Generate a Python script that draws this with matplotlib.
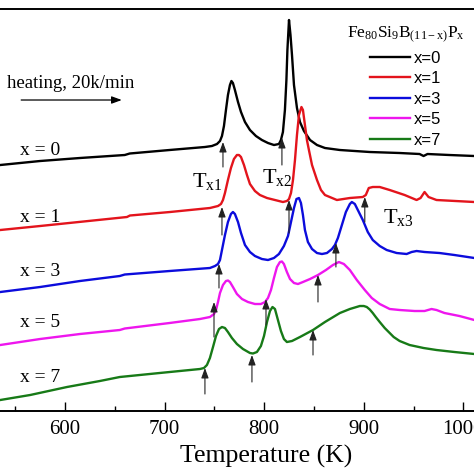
import matplotlib
matplotlib.use("Agg")
import matplotlib.pyplot as plt
from matplotlib.ticker import MultipleLocator, FixedLocator

plt.rcParams["font.family"] = ["Liberation Serif", "DejaVu Serif"]
plt.rcParams["mathtext.fontset"] = "custom"
plt.rcParams["mathtext.rm"] = "Liberation Serif"
plt.rcParams["mathtext.it"] = "Liberation Serif:italic"

# DSC traces: temperature (K) vs heat flow (a.u., curves offset)
temp_x0 = [535, 575, 615, 660, 665, 705, 740.5, 747.5, 752.6, 755.6, 757.6, 759.6, 761.6, 763.6, 765.6,
           767.1, 768.6, 770.6, 773.7, 776.7, 780.7, 785.7, 791.7, 797.7, 803.8, 809.8, 814.8, 816.8,
           818.8, 820.8, 822.3, 823.3, 824.9, 826.4, 827.9, 829.9, 832.9, 835.9, 839.9, 846, 853, 861,
           876, 906, 936, 956, 960, 964, 986, 1011]
flow_x0 = [246, 250, 253, 256, 257.5, 261, 264, 265, 267, 270, 275, 285, 301, 316, 326,
           330, 328, 321, 309, 299, 289, 281, 275, 271, 268, 266, 267, 271,
           279, 301, 331, 361, 391, 376, 356, 326, 303, 289, 280, 271, 266, 263,
           261, 259, 258, 257, 255, 257, 256, 255]

temp_x1 = [535, 575, 662.2, 665.2, 705.4, 745.5, 753.6, 756.6, 758.6, 760.6, 763.6, 766.6, 769.6, 772.6,
           774.7, 776.7, 779.7, 782.7, 785.7, 790.7, 795.7, 802.8, 810.8, 818.8, 822.8, 824.9, 826.9,
           828.9, 830.9, 832.9, 834.9, 837.4, 838.9, 840.9, 842.9, 844.9, 848, 853, 857, 861, 873, 886,
           899, 902, 905, 909, 916, 926, 941, 953, 957, 961, 965, 973, 1011]
flow_x1 = [181, 185, 194, 195.5, 199, 203, 205, 207, 211, 218, 231, 243, 252, 256,
           256, 254, 246, 236, 227, 220, 216, 213, 211, 209, 210, 212, 218,
           231, 251, 276, 296, 304, 301, 286, 271, 261, 246, 231, 221, 216, 211, 213,
           214, 216, 223, 224, 224, 221, 216, 211, 213, 219, 214, 211, 209]

temp_x3 = [535, 575, 615, 655, 660, 705, 745.5, 750.6, 753.6, 755.6, 757.6, 760.6, 763.6, 766.6, 768.6,
           770.6, 773.7, 776.7, 780.7, 785.7, 790.7, 797.7, 803.8, 809.8, 814.8, 819.8, 823.9, 826.9,
           829.9, 832.4, 834.9, 836.9, 838.9, 840.9, 843.9, 848, 853, 858, 863, 868, 871, 874, 878, 882,
           886, 888, 891, 895, 899, 904, 909, 916, 923, 933, 943, 948, 953, 961, 976, 991, 1011]
flow_x3 = [119, 124, 130, 135, 136.5, 140, 143, 145, 147, 151, 161, 176, 189, 197, 199,
           197, 189, 178, 166, 159, 155, 152, 151, 153, 157, 165, 175, 189,
           203, 212, 213, 208, 196, 181, 169, 162, 158, 157, 158, 162, 166, 173, 186, 199,
           207, 209, 207, 199, 191, 179, 171, 165, 161, 158, 157, 159, 160, 159, 158, 156, 153]

temp_x5 = [535, 575, 615, 655, 660, 705, 735.5, 745.5, 749.6, 751.6, 753.6, 755.6, 758.6, 761.6, 763.6,
           765.6, 768.6, 772.6, 777.7, 783.7, 790.7, 796.7, 800.8, 803.8, 806.8, 809.8, 812.8, 815.8,
           817.8, 819.8, 822.8, 825.9, 829.9, 833.9, 838.9, 846, 854, 862, 869, 875, 880, 886, 893, 901,
           908, 916, 926, 936, 951, 961, 968, 973, 981, 996, 1011]
flow_x5 = [66, 72, 77, 81, 82.5, 88, 92, 94, 97, 101, 109, 118, 126, 130, 130.5,
           129, 124, 117, 112, 109, 107, 107, 109, 113, 121, 133, 144, 149,
           149.5, 147, 139, 132, 128, 127, 129, 132, 136, 141, 146, 149, 147, 141, 131, 121,
           113, 107, 102, 101, 100, 100, 102, 101, 98, 95, 91]

temp_x7 = [535, 565, 602, 635, 655, 695, 735.5, 739.5, 742.5, 745.5, 748.6, 751.6, 754.6, 757.6, 760.6,
           763.6, 767.6, 772.6, 778.7, 785.7, 788.7, 792.7, 796.7, 799.8, 802.8, 805.8, 808.3, 810.8,
           813.8, 816.8, 819.8, 822.8, 827.9, 835.9, 849, 861, 876, 886, 891, 896, 900, 903, 906, 909,
           912, 916, 921, 930, 936, 946, 960, 973, 991, 1011]
flow_x7 = [11, 16, 24, 30, 34, 38, 42, 43, 46, 53, 64, 75, 82, 84, 83,
           79, 73, 67, 62, 58, 57.5, 59, 65, 75, 89, 100, 104, 102,
           91, 80, 72, 69, 70, 74, 81, 89, 98, 102, 103.5, 105, 105, 104, 101.5, 98,
           94, 89, 83, 74, 70, 66, 63, 61, 59, 57]

legend_labels = ["x=0", "x=1", "x=3", "x=5", "x=7"]
curve_labels = ["x = 0", "x = 1", "x = 3", "x = 5", "x = 7"]
colors = ["#000000", "#e3141c", "#0c0cdc", "#ee16ee", "#177a17"]

# crystallization onsets: temperature, arrow tail, arrow tip (a.u.)
onset_T = [[758.6, 817.8], [757.6, 824.9, 901], [754.6, 872], [749.6, 801.8, 854], [740.5, 787.7, 849]]
onset_tail = [[244, 246], [176, 178, 189], [123, 144], [74, 86, 109], [17, 29, 56]]
onset_tip = [[269, 273], [204, 211, 214], [147, 168], [109, 112, 136], [43, 56, 81]]
label_flow = [261, 194, 140, 89, 34]

temps = [temp_x0, temp_x1, temp_x3, temp_x5, temp_x7]
flows = [flow_x0, flow_x1, flow_x3, flow_x5, flow_x7]

fig = plt.figure(figsize=(4.74, 4.74), dpi=100)
ax = fig.add_axes([-0.0730, 0.1329, 1.1557, 0.8481])

for t, f, c, lab in zip(temps, flows, colors, legend_labels):
    ax.plot(t, f, color=c, lw=1.7, label=lab)

arrow_kw = dict(arrowstyle="-|>,head_length=0.6,head_width=0.22", color="#222222",
                lw=0.8, mutation_scale=10, shrinkA=0, shrinkB=0)
for ts, tails, tips in zip(onset_T, onset_tail, onset_tip):
    for t, a, b in zip(ts, tails, tips):
        ax.annotate("", xy=(t, b), xytext=(t, a), arrowprops=arrow_kw)

for lab, h in zip(curve_labels, label_flow):
    ax.text(575, h, lab, fontsize=14, ha="center", va="center")

ax.text(727.5, 224, r"$\mathrm{T_{x1}}$", fontsize=16, va="baseline")
ax.text(797.7, 228, r"$\mathrm{T_{x2}}$", fontsize=16, va="baseline")
ax.text(919.2, 188, r"$\mathrm{T_{x3}}$", fontsize=16, va="baseline")

ax.text(541.7, 328, "heating, 20k/min", fontsize=13.5, va="center")
ax.annotate("", xy=(657, 311), xytext=(556, 311),
            arrowprops=dict(arrowstyle="-|>,head_length=0.6,head_width=0.22", color="k",
                            lw=0.9, mutation_scale=10, shrinkA=0, shrinkB=0))

ax.set_xlim(500, 1050)
ax.set_ylim(0, 402)
ax.set_yticks([])
ax.xaxis.set_major_locator(FixedLocator([600, 700, 800, 900, 1000]))
ax.xaxis.set_minor_locator(MultipleLocator(50))
ax.tick_params(axis="x", which="major", direction="in", length=6.5, width=1.0, labelsize=15, pad=6.5)
ax.tick_params(axis="x", which="minor", direction="in", length=3.6, width=1.0)
for s in ax.spines.values():
    s.set_linewidth(1.4)

ax.set_xlabel("Temperature (K)", fontsize=18.5)
ax.xaxis.set_label_coords(0.5497, -0.084)

leg = ax.legend(title=r"$\mathrm{Fe_{80}Si_{9}B_{(11-x)}P_{x}}$", loc="upper left",
                bbox_to_anchor=(347 / 474, 1 - 25 / 474), bbox_transform=fig.transFigure,
                frameon=False, borderpad=0, borderaxespad=0, handlelength=2.4,
                handletextpad=0.25, labelspacing=0.33,
                prop={"family": "Liberation Sans", "size": 12}, title_fontsize=12.5)

fig.savefig("out.png", dpi=100)
